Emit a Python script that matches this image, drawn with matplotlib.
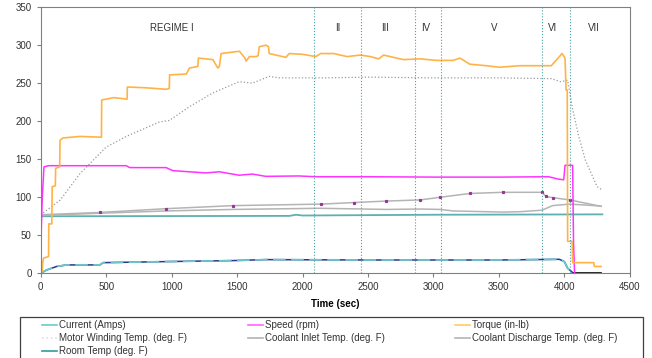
import matplotlib
matplotlib.use('Agg')
import matplotlib.pyplot as plt
from matplotlib.lines import Line2D
from matplotlib.patches import Rectangle

plt.rcParams['font.family'] = ['Liberation Sans', 'DejaVu Sans']

# values (time in sec)
torque_t = [0, 12, 15, 22, 60, 62, 85, 88, 112, 114, 145, 148, 170, 300, 464, 466, 560, 660, 662, 800,
            960, 982, 985, 1112, 1137, 1200, 1205, 1315, 1353, 1365, 1378, 1518, 1560, 1569, 1594, 1645,
            1660, 1670, 1721, 1740, 1746, 1873, 1898, 2000, 2102, 2138, 2239, 2340, 2442, 2518, 2581, 2619,
            2771, 2898, 3024, 3151, 3202, 3278, 3404, 3506, 3658, 3900, 3962, 3982, 4005, 4013, 4022, 4025,
            4060, 4063, 4225, 4229, 4280]
torque_v = [0, 3, 13, 20, 22, 65, 65, 114, 115, 138, 140, 175, 178, 180, 179, 228, 231, 229, 245, 244,
            242, 243, 261, 262, 270, 272, 283, 281, 270, 272, 289, 292, 283, 279, 285, 285,
            286, 298, 300, 298, 289, 284, 289, 288, 285, 289, 289, 285, 287, 285, 282, 287,
            281, 282, 280, 280, 283, 275, 273, 271, 273, 273, 285, 289, 283, 241, 241, 42,
            42, 14, 14, 9, 9]

speed_t = [0, 5, 12, 25, 60, 654, 679, 958, 1009, 1262, 1364, 1516, 1617, 1719, 1972, 2100,
           2500, 3000, 3500, 3880, 3950, 3995, 4005, 4063, 4070, 4078]
speed_v = [0, 60, 99, 140, 141.5, 141.5, 139, 139, 135, 132, 133.5, 129, 130.5, 127.5, 128, 127,
           127, 126.5, 126.5, 127, 124, 123, 142, 142, 40, 0]

winding_t = [0, 147, 300, 500, 654, 907, 983, 1135, 1313, 1516, 1617, 1744, 1822, 2178, 2500, 3000,
             3500, 3900, 3970, 4000, 4025, 4065, 4110, 4160, 4250, 4285]
winding_v = [77, 96, 131, 166, 180, 199, 201, 219, 237, 252, 250, 259, 257, 257, 258, 257,
             257, 256, 252, 253, 254, 214, 180, 149, 114, 110]

discharge_t = [0, 450, 960, 1470, 2140, 2390, 2640, 2900, 3050, 3280, 3530, 3830, 3860, 3910, 4040, 4280]
discharge_v = [77, 80, 85, 89, 91, 93, 95, 96.5, 100, 105, 106.5, 106.5, 101, 99.5, 96.5, 88]

inlet_t = [0, 450, 960, 1470, 2140, 2640, 2900, 3050, 3150, 3530, 3660, 3830, 3910, 4040, 4280]
inlet_v = [76, 79, 82, 84, 85.5, 84, 84.5, 84, 82, 80.5, 81, 83, 89, 91, 88.5]

room_t = [0, 1900, 1950, 2000, 2500, 3000, 4290]
room_v = [75, 75.5, 77, 76, 76.5, 77, 77.5]

current_t = [0, 46, 122, 198, 452, 477, 959, 1467, 1721, 2500, 3500, 3962, 4000, 4025, 4063, 4070, 4280]
current_v = [0, 4.4, 9, 11, 11, 14, 15.4, 16.7, 18, 17.5, 17.5, 18.4, 15.4, 6.6, 1, 0, 0]

regime_lines = [2090, 2450, 2857, 3055, 3830, 4045]
regime_names = ['REGIME I', 'II', 'III', 'IV', 'V', 'VI', 'VII']
regime_x = [1000, 2266, 2629, 2939, 3467, 3908, 4228]

fig = plt.figure(figsize=(6.52, 3.58), dpi=100)
ax = fig.add_axes([0.0624, 0.2366, 0.9036, 0.7434])

ax.plot(room_t, room_v, color='#5FB0B0', lw=1.3)
ax.plot(inlet_t, inlet_v, color='#B4B4B4', lw=1.1)
ax.plot(discharge_t, discharge_v, color='#B4B4B4', lw=1.1)
ax.plot(discharge_t[1:-1], discharge_v[1:-1], ls='none', marker='s', ms=1.3, color='#993399')
ax.plot(winding_t, winding_v, color='#9A9A9A', lw=0.9, ls=':')
ax.plot(current_t[:-1], current_v[:-1], color='#2A3590', lw=1.1)
ax.plot(current_t[:-1], current_v[:-1], color='#6CC8C8', lw=1.3, ls=(0, (7, 3)))
ax.plot(current_t[-2:], current_v[-2:], color='black', lw=1.2)
ax.plot(speed_t, speed_v, color='#FF33FF', lw=1.1)
ax.plot(torque_t, torque_v, color='#FFB347', lw=1.2)

for x in regime_lines:
    ax.axvline(x, color='#4BA3A3', lw=0.8, ls=':')
for name, x in zip(regime_names, regime_x):
    ax.text(x, 323, name, ha='center', va='center', fontsize=7, color='#333333')

ax.set_xlim(0, 4500)
ax.set_ylim(0, 350)
ax.set_xticks(range(0, 4501, 500))
ax.set_yticks(range(0, 351, 50))
ax.tick_params(labelsize=7, colors='#808080', labelcolor='#333333', length=3, width=0.8)
for s in ax.spines.values():
    s.set_color('#808080')
    s.set_linewidth(0.8)
ax.set_xlabel('Time (sec)', fontsize=7, fontweight='bold', labelpad=5)

# legend box, cut by the bottom edge as in the picture
fig.patches.append(Rectangle((20 / 652, -0.05), 623 / 652, 1.05 - 317 / 358, transform=fig.transFigure,
                             fill=False, edgecolor='#404040', lw=0.9, clip_on=False))
entries = [('Current (Amps)', '#66CCCC', '-'), ('Speed (rpm)', '#FF66FF', '-'), ('Torque (in-lb)', '#FFCC66', '-'),
           ('Motor Winding Temp. (deg. F)', '#E0E0E0', ':'), ('Coolant Inlet Temp. (deg. F)', '#B4B4B4', '-'),
           ('Coolant Discharge Temp. (deg. F)', '#B4B4B4', '-'), ('Room Temp (deg. F)', '#339999', '-')]
col_x = [42, 248, 455]
row_y = [325, 338, 351]
for i, (label, c, ls) in enumerate(entries):
    x0 = col_x[i % 3]
    y0 = 1 - row_y[i // 3] / 358
    fig.lines.append(Line2D([x0 / 652, (x0 + 15) / 652], [y0, y0], transform=fig.transFigure,
                            color=c, lw=1.2, ls=ls))
    fig.text((x0 + 17) / 652, y0, label, fontsize=7, color='#333333', va='center')

fig.savefig('out.png', dpi=100)
